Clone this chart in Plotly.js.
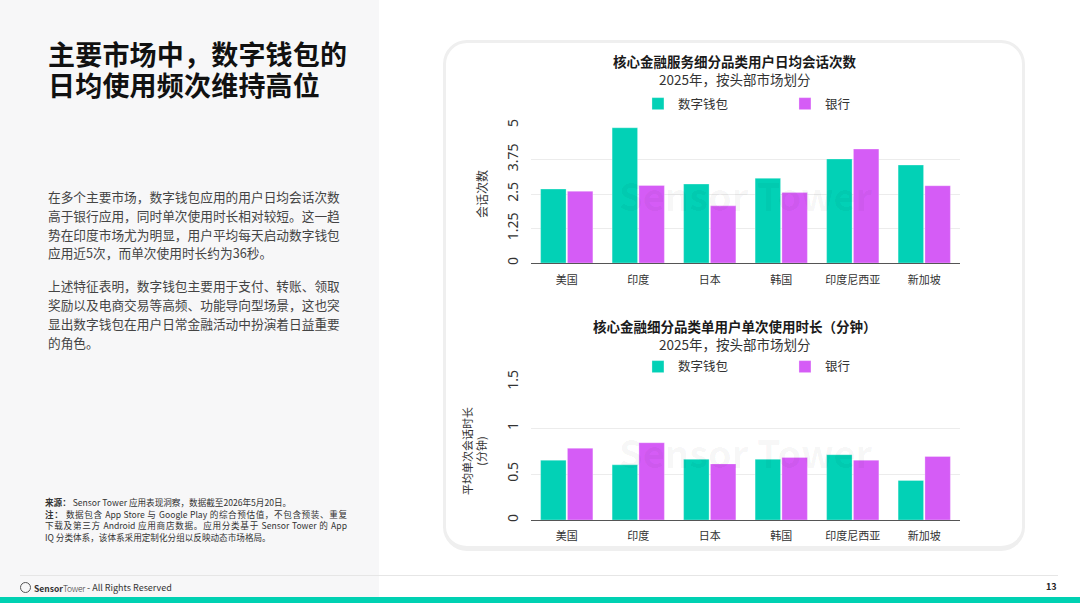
<!DOCTYPE html>
<html>
<head>
<meta charset="utf-8">
<script src="https://cdn.plot.ly/plotly-3.0.1.min.js"></script>
<style>
  html, body { margin:0; padding:0; }
  body { width:1080px; height:603px; position:relative; overflow:hidden; background:#ffffff; font-family:"Noto Sans CJK SC","Noto Sans",sans-serif; }
  #leftpanel { position:absolute; left:0; top:0; width:379px; height:597px; background:#f7f7f8; }
  .headline { position:absolute; left:48px; font-family:"Liberation Sans","Noto Sans CJK SC",sans-serif; font-size:27px; font-weight:700; line-height:27px; height:27px; color:#111; letter-spacing:0.2px; white-space:nowrap; }
  #body { position:absolute; left:48px; top:188px; width:300px; font-size:12.7px; line-height:18.8px; color:#444; }
  #body p { margin:0 0 14px 0; }
  #notes { position:absolute; left:45px; top:497px; width:302px; font-size:8.6px; line-height:11.6px; color:#333; }
  #notes .j { text-align:justify; text-align-last:justify; }
  #card { position:absolute; left:443px; top:40px; width:576px; height:503px; border:3px solid #efefef; border-bottom-width:5px; border-radius:24px; background:#fff; }
  .chart { position:absolute; left:443px; width:582px; }
  #footline { position:absolute; left:20px; top:575px; width:1038px; height:1px; background:#e6e6e6; }
  #footer { position:absolute; left:20px; top:581px; font-size:9px; color:#333; display:flex; align-items:center; white-space:nowrap; }
  #footer .logo { width:9px; height:9px; border:1px solid #555; border-radius:50%; margin-right:3px; }
  #pagenum { position:absolute; left:1046px; top:580px; font-size:9px; font-weight:700; color:#222; }
  #teal { position:absolute; left:0; top:597px; width:1080px; height:6px; background:#00D1B2; }
</style>
</head>
<body>
<div id="leftpanel"></div>
<div class="headline" style="top:43px;">主要市场中，数字钱包的</div>
<div class="headline" style="top:74px;">日均使用频次维持高位</div>
<div id="body">
  <p>在多个主要市场，数字钱包应用的用户日均会话次数高于银行应用，同时单次使用时长相对较短。这一趋势在印度市场尤为明显，用户平均每天启动数字钱包应用近5次，而单次使用时长约为36秒。</p>
  <p>上述特征表明，数字钱包主要用于支付、转账、领取奖励以及电商交易等高频、功能导向型场景，这也突显出数字钱包在用户日常金融活动中扮演着日益重要的角色。</p>
</div>
<div id="notes">
  <div><b>来源：</b> Sensor Tower 应用表现洞察，数据截至2026年5月20日。</div>
  <div class="j"><b>注：</b> 数据包含 App Store 与 Google Play 的综合预估值，不包含预装、重复</div>
  <div class="j">下载及第三方 Android 应用商店数据。应用分类基于 Sensor Tower 的 App</div>
  <div>IQ 分类体系，该体系采用定制化分组以反映动态市场格局。</div>
</div>
<div id="card"></div>
<div id="chart1" class="chart" style="top:40px;height:262px;"></div>
<div id="chart2" class="chart" style="top:302px;height:248px;"></div>
<div id="footline"></div>
<div id="footer"><span class="logo"></span><b style="font-size:8.5px;">Sensor</b><span style="font-weight:300;font-size:8.5px;letter-spacing:-0.3px;">Tower</span>&nbsp;- All Rights Reserved</div>
<div id="pagenum">13</div>
<div id="teal"></div>

<script>
// ---- data ----
const categories = ['美国', '印度', '日本', '韩国', '印度尼西亚', '新加坡'];
const seriesNames = ['数字钱包', '银行'];
const sessionsWallet = [2.68, 4.90, 2.86, 3.07, 3.77, 3.55];
const sessionsBank   = [2.60, 2.81, 2.07, 2.55, 4.13, 2.80];
const durationWallet = [0.65, 0.60, 0.66, 0.66, 0.71, 0.43];
const durationBank   = [0.78, 0.84, 0.61, 0.68, 0.65, 0.69];
const sessionsTicks = [0, 1.25, 2.5, 3.75, 5];
const sessionsTickText = ['0', '1.25', '2.5', '3.75', '5'];
const durationTicks = [0, 0.5, 1, 1.5];
const durationTickText = ['0', '0.5', '1', '1.5'];
const chart1Title = '核心金融服务细分品类用户日均会话次数';
const chart2Title = '核心金融细分品类单用户单次使用时长（分钟）';
const subTitle = '2025年，按头部市场划分';

const TEAL = '#02D1B6';
const PURPLE = '#D55CF6';
const FONT = '"Noto Sans CJK SC", "Noto Sans", sans-serif';

function traces(a, b) {
  return [
    { type:'bar', name:seriesNames[0], x:categories, y:a, marker:{color:TEAL, line:{color:'rgba(255,255,255,0.5)', width:0.6}}, hoverinfo:'x+y' },
    { type:'bar', name:seriesNames[1], x:categories, y:b, marker:{color:PURPLE, line:{color:'rgba(255,255,255,0.5)', width:0.6}}, hoverinfo:'x+y' }
  ];
}

function layout(title, yTitle, tickvals, ticktext, range, tY, sY, legY, yTitleStandoff) {
  return {
    width:582, height: null,
    paper_bgcolor:'rgba(0,0,0,0)', plot_bgcolor:'rgba(0,0,0,0)',
    font:{family:FONT, color:'#333'},
    barmode:'group', bargap:0.25, bargroupgap:0.05,
    showlegend:true,
    legend:{orientation:'h', x:0.592, xanchor:'center', y:legY, yanchor:'middle', font:{size:12.5, color:'#333'}, entrywidth:102, itemwidth:30, bgcolor:'rgba(0,0,0,0)'},
    xaxis:{type:'category', showline:true, linecolor:'#555', linewidth:1, showgrid:false, ticks:'', ticklabelstandoff:7, tickfont:{size:11, color:'#333'}, fixedrange:true},
    yaxis:{range:range, tickvals:tickvals, ticktext:ticktext, tickangle:-90, showgrid:true, gridcolor:'#ececec', gridwidth:1, zeroline:false, showline:false, ticks:'', ticklabelstandoff:9, tickfont:{size:14, color:'#333', family:'"Noto Sans", sans-serif'},
           title:{text:yTitle, font:{size:12, color:'#333'}, standoff:yTitleStandoff}, fixedrange:true},
    annotations:[
      {xref:'paper', yref:'paper', x:0.4755, y:tY, text:'<b>'+title+'</b>', showarrow:false, font:{size:13.5, color:'#1a1a1a'}, xanchor:'center', yanchor:'middle'},
      {xref:'paper', yref:'paper', x:0.4755, y:sY, text:subTitle, showarrow:false, font:{size:13.5, color:'#333'}, xanchor:'center', yanchor:'middle'},
      {xref:'paper', yref:'paper', x:0.5, y:0.5, text:'<b>Sensor Tower</b>', showarrow:false, font:{size:38, color:'rgba(0,0,0,0.04)'}, xanchor:'center', yanchor:'middle'}
    ]
  };
}

const l1 = layout(chart1Title, '会话次数', sessionsTicks, sessionsTickText, [0, 5], 1.4638, 1.3333, 1.152, 13);
l1.height = 262; l1.margin = {l:88, r:65, t:85, b:39};
Plotly.newPlot('chart1', traces(sessionsWallet, sessionsBank), l1, {displayModeBar:false, staticPlot:true});

const l2 = layout(chart2Title, '平均单次会话时长<br>(分钟)', durationTicks, durationTickText, [0, 1.5], 1.4058, 1.2754, 1.1087, 14);
l2.height = 248; l2.margin = {l:88, r:65, t:80, b:30};
l2.yaxis.title.font.size = 11;
l2.xaxis.ticklabelstandoff = 6;
Plotly.newPlot('chart2', traces(durationWallet, durationBank), l2, {displayModeBar:false, staticPlot:true});
</script>
</body>
</html>
